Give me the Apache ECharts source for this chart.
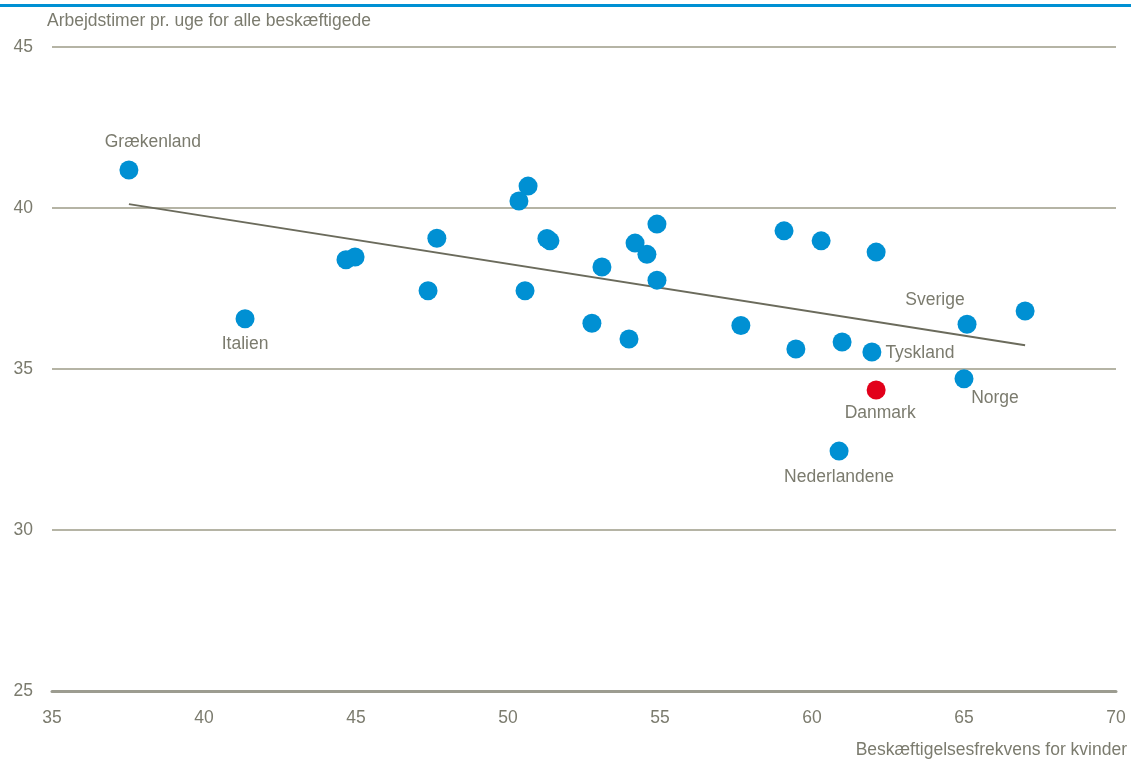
<!DOCTYPE html>
<html><head><meta charset="utf-8">
<script src="https://cdn.jsdelivr.net/npm/echarts@6/dist/echarts.min.js"></script>
<style>html,body{margin:0;padding:0;background:#fff}#c{width:1131px;height:763px}</style>
</head><body><div id="c"></div>
<script>
const countries = ['Grækenland','Italien','','','','','','','','','','','','','','','','','','','','','','','Tyskland','Danmark','Nederlandene','Sverige','Norge',''];
const xValues = [37.53,41.35,44.67,44.97,47.66,47.37,50.36,50.66,51.28,51.38,50.56,52.76,53.09,53.98,54.18,54.57,54.90,54.90,57.66,59.08,59.47,60.30,60.99,62.11,61.97,62.11,60.89,65.10,65.00,67.01];
const yValues = [41.18,36.56,38.39,38.48,39.06,37.43,40.22,40.68,39.05,38.98,37.43,36.42,38.17,35.93,38.91,38.56,39.50,37.76,36.35,39.29,35.62,38.98,35.84,38.63,35.53,34.35,32.45,36.39,34.70,36.80];
const trendX = [37.53,67.01];
const trendY = [40.12,35.74];
const xTicks = [35,40,45,50,55,60,65,70];
const yTicks = [25,30,35,40,45];
const highlight = 'Danmark';

const FONT = '"Liberation Sans Narrow","Arial Narrow","Liberation Sans",sans-serif';
const TXT = '#7b7b6e';
const labelPos = {
  'Grækenland': {position:'top', offset:[24,-4]},
  'Italien': {position:'bottom', offset:[0,2]},
  'Tyskland': {position:'right', offset:[-1,1]},
  'Danmark': {position:'bottom', offset:[4,0]},
  'Nederlandene': {position:'bottom', offset:[0,3]},
  'Sverige': {position:'top', offset:[-32,-1]},
  'Norge': {position:'bottom', offset:[31,-4]}
};
const pts = xValues.map((x,i)=>{
  const n = countries[i];
  const d = {value:[x,yValues[i]], name:n};
  if(n===highlight) d.itemStyle={color:'#e2001a'};
  if(n){ d.label = Object.assign({show:true, formatter:n, color:TXT, fontFamily:FONT, fontSize:17.5}, labelPos[n]||{}); }
  return d;
});
const chart = echarts.init(document.getElementById('c'));
chart.setOption({
  animation:false,
  graphic:[{type:'rect', shape:{x:0,y:4,width:1131,height:3}, style:{fill:'#0090d3'}},
    {type:'text', left:47, top:12, style:{text:'Arbejdstimer pr. uge for alle beskæftigede', fill:TXT, font:'17.5px '+FONT}},
    {type:'text', right:4, top:741, style:{text:'Beskæftigelsesfrekvens for kvinder', fill:TXT, font:'17.5px '+FONT}}],
  grid:{left:52,right:15,top:47,bottom:72},
  xAxis:{type:'value',min:xTicks[0],max:xTicks[xTicks.length-1],interval:5,
    axisLine:{show:true,lineStyle:{color:'#9c9c90',width:3}},axisTick:{show:false},splitLine:{show:false},
    axisLabel:{color:TXT,fontFamily:FONT,fontSize:17.5,margin:18}},
  yAxis:{type:'value',min:yTicks[0],max:yTicks[yTicks.length-1],interval:5,
    axisLine:{show:false},axisTick:{show:false},
    splitLine:{lineStyle:{color:'#b5b4a5',width:2}},
    axisLabel:{color:TXT,fontFamily:FONT,fontSize:17.5,margin:19}},
  series:[
    {type:'line', data:trendX.map((x,i)=>[x,trendY[i]]), symbol:'none', lineStyle:{color:'#6b6b5c',width:2}, silent:true, z:1},
    {type:'scatter', data:pts, symbolSize:19, itemStyle:{color:'#0090d3',opacity:1}, z:3}
  ]
});
</script></body></html>
